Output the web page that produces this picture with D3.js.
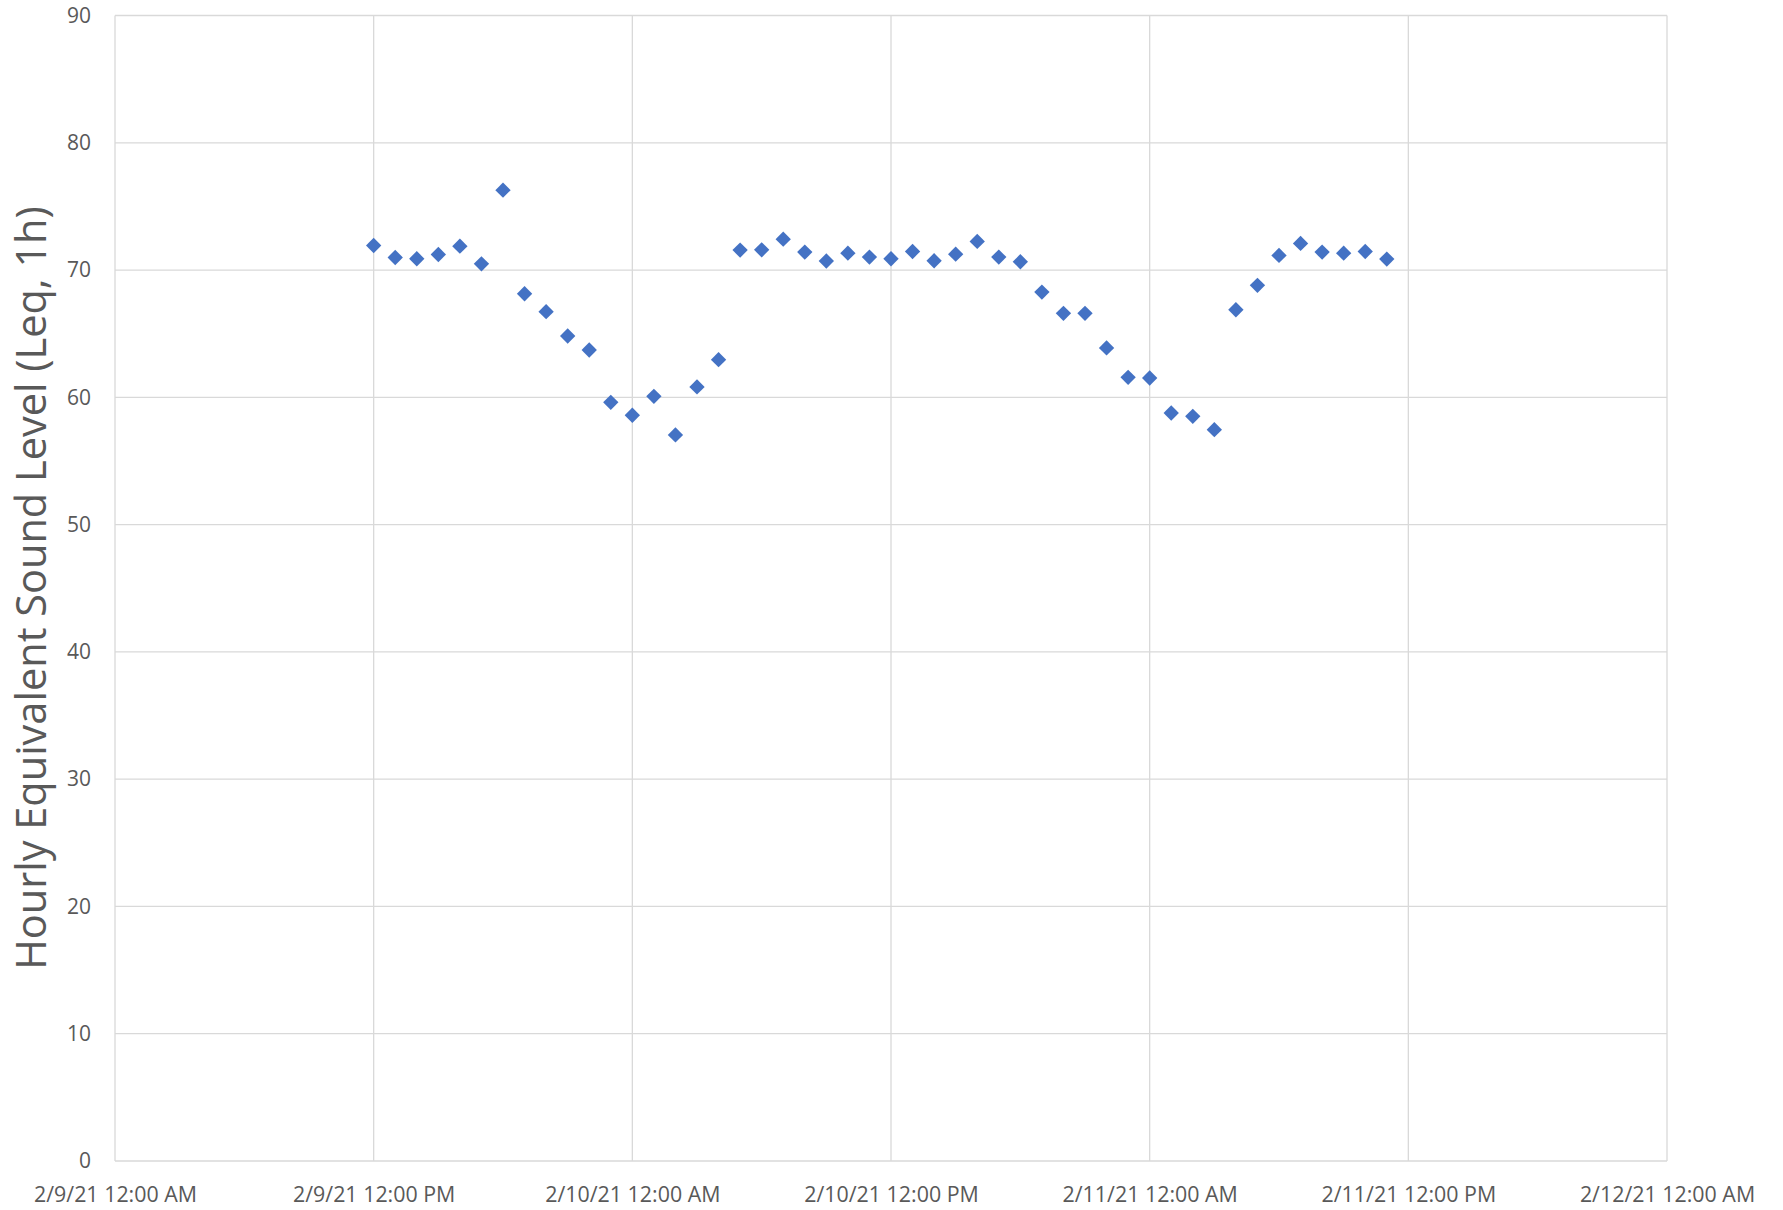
<!DOCTYPE html>
<html><head><meta charset="utf-8">
<script src="https://cdn.jsdelivr.net/npm/d3@7"></script>
<style>body{margin:0;background:#fff}</style>
</head><body>
<svg id="c" width="1783" height="1210"></svg>
<script>
const startTime = "2021-02-09T12:00:00";
const hourlyLeq = [71.93,70.99,70.89,71.22,71.88,70.49,76.28,68.14,66.73,64.82,63.72,59.61,58.59,60.08,57.05,60.82,62.96,71.57,71.59,72.43,71.41,70.71,71.33,71.02,70.89,71.46,70.73,71.25,72.25,71.02,70.65,68.27,66.6,66.6,63.88,61.57,61.52,58.77,58.51,57.46,66.88,68.8,71.15,72.09,71.41,71.33,71.46,70.86];
const xTickDates = ["2021-02-09T00:00:00","2021-02-09T12:00:00","2021-02-10T00:00:00","2021-02-10T12:00:00","2021-02-11T00:00:00","2021-02-11T12:00:00","2021-02-12T00:00:00"];
const yTicks = [0,10,20,30,40,50,60,70,80,90];
const yTitle = "Hourly Equivalent Sound Level (Leq, 1h)";

const t0 = new Date(startTime);
const data = hourlyLeq.map((v,i)=>({t:new Date(t0.getTime()+i*3600e3), v}));
const ticks = xTickDates.map(s=>new Date(s));

const L=115, R=1667, T=15.5, B=1161;
const svg = d3.select("#c");
const x = d3.scaleTime().domain([ticks[0], ticks[ticks.length-1]]).range([L,R]);
const y = d3.scaleLinear().domain([0,90]).range([B,T]);
const font = "'Open Sans', sans-serif";
const gc = "#d9d9d9", tc = "#595959";

// gridlines
svg.append("g").selectAll("line").data(yTicks).join("line")
  .attr("x1",L).attr("x2",R).attr("y1",d=>y(d)).attr("y2",d=>y(d))
  .attr("stroke",gc).attr("stroke-width",1.3);
svg.append("g").selectAll("line").data(ticks).join("line")
  .attr("x1",d=>x(d)).attr("x2",d=>x(d)).attr("y1",T).attr("y2",B)
  .attr("stroke",gc).attr("stroke-width",1.3);

// axes labels
const fmt = d3.timeFormat("%-m/%-d/%y %-I:%M %p");
const xAxis = d3.axisBottom(x).tickValues(ticks).tickFormat(fmt).tickSize(0).tickPadding(26);
const gx = svg.append("g").attr("transform",`translate(0,${B})`).call(xAxis);
gx.select(".domain").remove();
gx.selectAll("text").attr("font-family",font).attr("font-size",21.4).attr("fill",tc);

const yAxis = d3.axisLeft(y).tickValues(yTicks).tickSize(0).tickPadding(24);
const gy = svg.append("g").attr("transform",`translate(${L},0)`).call(yAxis);
gy.select(".domain").remove();
gy.selectAll("text").attr("font-family",font).attr("font-size",21).attr("fill",tc);

// title
svg.append("text").attr("transform",`translate(46,588) rotate(-90)`)
  .attr("text-anchor","middle").attr("font-family",font).attr("font-size",41.5)
  .attr("fill",tc).text(yTitle);

// points
const sym = d3.symbol().type(d3.symbolDiamond2).size(150);
svg.append("g").selectAll("path").data(data).join("path")
  .attr("d",sym).attr("transform",d=>`translate(${x(d.t)},${y(d.v)})`)
  .attr("fill","#4472C4");
</script>
</body></html>
